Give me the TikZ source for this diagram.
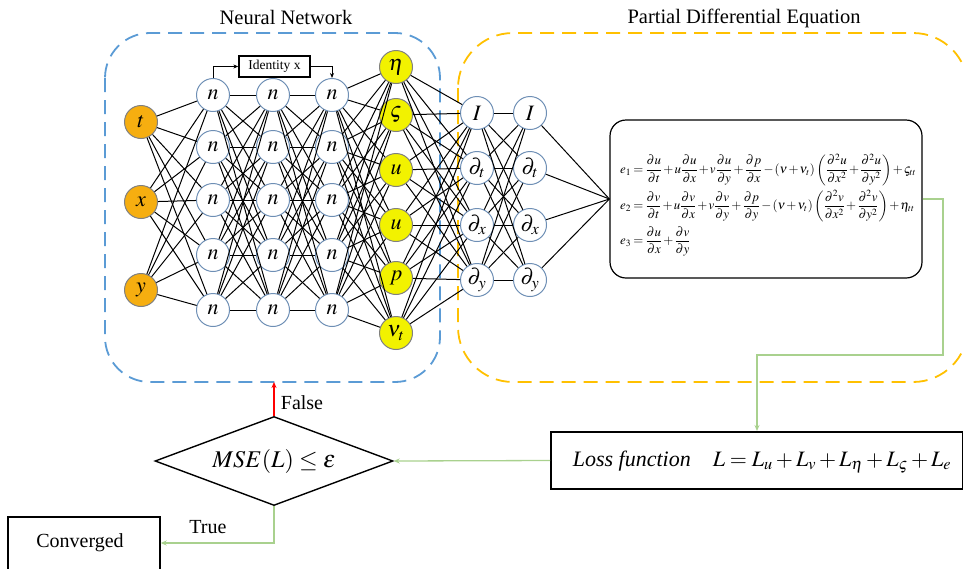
\documentclass[tikz,border=0pt]{standalone}
\usepackage{mathptmx}
\usepackage{fontspec}
\setmainfont{Liberation Serif}
\usetikzlibrary{shapes.geometric,arrows.meta}
\definecolor{nnblue}{HTML}{5B9BD5}
\definecolor{pdeyel}{HTML}{FFC000}
\definecolor{inorange}{HTML}{F6AE10}
\definecolor{outyel}{HTML}{F2F200}
\definecolor{nodeedge}{HTML}{6E8FB5}
\definecolor{grn}{HTML}{A9D18E}
\tikzset{
  neuron/.style={circle,draw=nodeedge,line width=1pt,fill=white,minimum size=33pt,inner sep=0pt,font=\fontsize{22}{24}\selectfont},
  inneuron/.style={neuron,draw=gray,fill=inorange},
  outneuron/.style={neuron,draw=gray,fill=outyel},
  link/.style={black,line width=1pt},
  title/.style={font=\fontsize{20.5}{24}\selectfont},
  lbl/.style={font=\fontsize{20}{24}\selectfont},
  gline/.style={draw=grn,line width=1.3pt,-{Stealth[length=6pt,width=5pt]}},
}
\begin{document}
\begin{tikzpicture}[x=1pt,y=-1pt]
\useasboundingbox (0,0) rectangle (963,568);
% dashed boxes
\draw[nnblue,line width=1.8pt,dash pattern=on 14pt off 8pt,rounded corners=45pt] (105,33) rectangle (440,382);
\draw[pdeyel,line width=1.8pt,dash pattern=on 14pt off 8pt,rounded corners=55pt] (458,33) rectangle (968,382);
\node[title] (tnn) at (286,17) {Neural Network};
\node[title] (tpde) at (744,18) {Partial Differential Equation};
% input nodes
\node[inneuron] (i1) at (141,122) {$t$};
\node[inneuron] (i2) at (141,202) {$x$};
\node[inneuron] (i3) at (141,290) {$y$};
% hidden layers
\foreach \r/\yy in {1/95,2/147,3/200,4/255,5/310}{
  \node[neuron] (a\r) at (213,\yy) {$n$};
  \node[neuron] (b\r) at (273,\yy) {$n$};
  \node[neuron] (c\r) at (332,\yy) {$n$};
}
% outputs
\node[outneuron] (o1) at (396,67) {$\eta$};
\node[outneuron] (o2) at (396,115) {$\varsigma$};
\node[outneuron] (o3) at (396,170) {$u$};
\node[outneuron] (o4) at (396,225) {$u$};
\node[outneuron] (o5) at (396,278) {$p$};
\node[outneuron] (o6) at (396,333) {$\nu_t$};
% derivative nodes
\foreach \r/\yy/\lab in {1/113/I,2/168/\partial_t,3/225/\partial_x,4/280/\partial_y}{
  \node[neuron] (d\r) at (477,\yy) {$\lab$};
  \node[neuron] (f\r) at (530,\yy) {$\lab$};
}
% connections
\foreach \i in {1,2,3}{\foreach \j in {1,...,5}{\draw[link] (i\i) -- (a\j);}}
\foreach \i in {1,...,5}{\foreach \j in {1,...,5}{\draw[link] (a\i) -- (b\j); \draw[link] (b\i) -- (c\j);}}
\foreach \i in {1,...,5}{\foreach \j in {1,...,6}{\draw[link] (c\i) -- (o\j);}}
\foreach \i in {1,...,6}{\foreach \j in {1,...,4}{\draw[link] (o\i) -- (d\j);}}
\foreach \i in {1,...,4}{\foreach \j in {1,...,4}{\draw[link] (d\i) -- (f\j);}}
% identity
\node[draw,line width=1.3pt,minimum width=71pt,minimum height=21pt,inner sep=0pt,font=\fontsize{13.5}{15}\selectfont] (id) at (274.5,66.5) {Identity x};
\coordinate (ida) at (213,66.5);
\coordinate (idb) at (332,66.5);
\draw[line width=1pt,-{Stealth[length=5pt,width=4pt]}] (a1.north) -- (ida) -- (id.west);
\draw[line width=1pt,-{Stealth[length=5pt,width=4pt]}] (id.east) -- (idb) -- (c1.north);
% equations
\node[draw,line width=1.2pt,rounded corners=16pt,minimum width=312pt,minimum height=158pt,inner sep=0pt] (eq) at (766,199) {};
\node[anchor=west,inner sep=0pt,font=\fontsize{12.9}{15}\selectfont] (eqt) at (620,205) {%
\thinmuskip=2mu\medmuskip=1.5mu plus 1mu\thickmuskip=3mu plus 1mu%
$\begin{array}{@{}l@{}}
\displaystyle e_1=\frac{\partial u}{\partial t}+u\frac{\partial u}{\partial x}+v\frac{\partial u}{\partial y}+\frac{\partial p}{\partial x}-\left(\nu+\nu_t\right)\left(\frac{\partial^2 u}{\partial x^2}+\frac{\partial^2 u}{\partial y^2}\right)+\varsigma_{tt}\\[12pt]
\displaystyle e_2=\frac{\partial v}{\partial t}+u\frac{\partial v}{\partial x}+v\frac{\partial v}{\partial y}+\frac{\partial p}{\partial y}-\left(\nu+\nu_t\right)\left(\frac{\partial^2 v}{\partial x^2}+\frac{\partial^2 v}{\partial y^2}\right)+\eta_{tt}\\[12pt]
\displaystyle e_3=\frac{\partial u}{\partial x}+\frac{\partial v}{\partial y}
\end{array}$};
\foreach \i in {1,...,4}{\draw[link] (f\i) -- (eq.west);}
% loss
\node[draw,line width=2pt,minimum width=412pt,minimum height=57pt,inner sep=0pt] (loss) at (757,460.5) {};
\node[font=\fontsize{22}{26}\selectfont] (losst) at (762,462) {\textit{Loss function}\quad $L=L_u+L_v+L_\eta+L_\varsigma+L_e$};
% diamond
\node[diamond,draw,line width=1.4pt,minimum width=238pt,minimum height=89pt,inner sep=0pt,aspect=2.67,font=\fontsize{24}{28}\selectfont] (dia) at (274,461) {$MSE\mathopen{}\left(L\right)\le\varepsilon$};
% converged
\node[draw,line width=1.4pt,minimum width=152pt,minimum height=56pt,inner sep=0pt,lbl] (conv) at (84,545) {};
\node[lbl] (convt) at (80,543) {Converged};
% green connectors
\coordinate (g1) at (943,355);
\draw[gline] (eq.east) -| (g1) -| (loss.north);
\draw[gline] (loss.west) -- (dia.east);
\coordinate (g2) at (274,543);
\draw[gline] (dia.south) -- (g2) -- (conv.east |- g2);
% false
\coordinate (nnb) at (274,382);
\draw[red,line width=1.3pt,-{Stealth[length=6pt,width=5pt]}] (dia.north) -- (nnb);
\node[lbl] (fl) at (302,403) {False};
\node[lbl] (tr) at (208,527) {True};
\end{tikzpicture}
\end{document}
